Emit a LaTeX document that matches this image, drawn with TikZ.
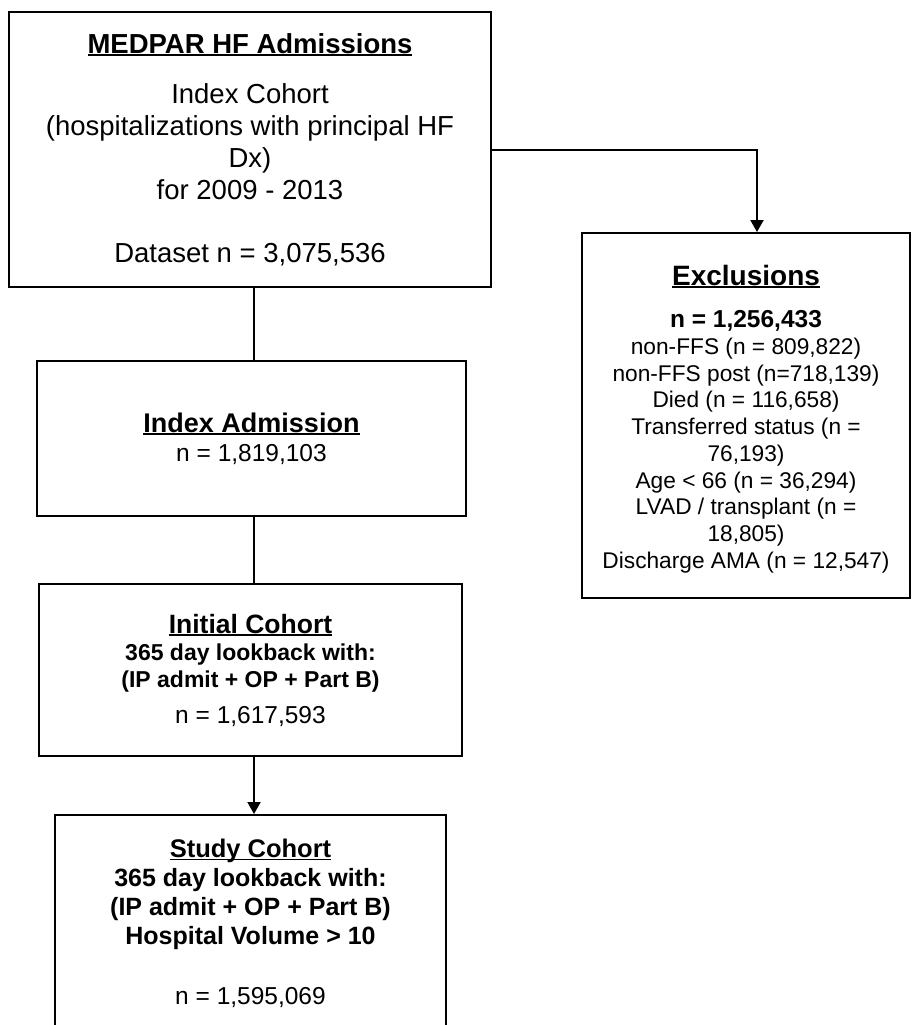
\documentclass[tikz,border=0pt]{standalone}
\usepackage{fontspec}
\setmainfont{Liberation Sans}
\usetikzlibrary{arrows.meta}
\newcommand\undl[1]{\setbox0\hbox{#1}\rlap{\rule[-2.8pt]{\wd0}{1.7pt}}\box0}
\tikzset{
  flowbox/.style={draw, line width=2pt, align=center, inner sep=0pt},
  link/.style={line width=2pt},
  arrowlink/.style={line width=2pt, -{Triangle[length=12pt,width=13pt]}}
}

\begin{document}
\begin{tikzpicture}[x=1pt,y=-1pt]
\useasboundingbox (0,0) rectangle (912,1025);
\clip (0,0) rectangle (912,1025);
\coordinate (spine) at (254,0);
\coordinate (bend) at (757,0);
% boxes
\node [flowbox, minimum width=482pt, minimum height=275pt, font=\fontsize{27.5}{32}\selectfont] (medpar) at (250,149.5)
  {{\bfseries\undl{MEDPAR HF Admissions}}\\[18pt]
   Index Cohort\\
   (hospitalizations with principal HF\\
   Dx)\\
   for 2009 - 2013\\[31pt]
   Dataset n = 3,075,536};
\node [flowbox, minimum width=429pt, minimum height=155pt, font=\fontsize{24.5}{29}\selectfont] (index) at (251.5,438.5)
  {{\fontsize{27}{29}\selectfont\bfseries\undl{Index Admission}}\\
   n = 1,819,103};
\node [flowbox, minimum width=423pt, minimum height=172pt, font=\fontsize{23}{27}\selectfont] (initial) at (250.5,670)
  {{\fontsize{26.5}{27}\selectfont\bfseries\undl{Initial Cohort}}\\
   {\bfseries 365 day lookback with:}\\
   {\bfseries (IP admit + OP + Part B)}\\[9pt]
   {\fontsize{24.5}{27}\selectfont n = 1,617,593}};
\node [flowbox, minimum width=391pt, minimum height=217pt, font=\fontsize{25}{29}\selectfont] (study) at (250.5,923.5)
  {{\fontsize{25.5}{29}\selectfont\bfseries\undl{Study Cohort}}\\
   {\bfseries 365 day lookback with:}\\
   {\bfseries (IP admit + OP + Part B)}\\
   {\bfseries Hospital Volume > 10}\\[31pt]
   {\fontsize{24.5}{29}\selectfont n = 1,595,069}};
\node [flowbox, minimum width=328pt, minimum height=365pt, font=\fontsize{22.7}{26.7}\selectfont] (excl) at (746,415.5)
  {{\fontsize{28}{26.7}\selectfont\bfseries\rule{0pt}{27pt}\undl{Exclusions}}\\[16pt]
   {\fontsize{24.5}{26.7}\selectfont\bfseries n = 1,256,433}\\
   non-FFS (n = 809,822)\\
   non-FFS post (n=718,139)\\
   Died (n = 116,658)\\
   Transferred status (n =\\
   76,193)\\
   Age < 66 (n = 36,294)\\
   LVAD / transplant (n =\\
   18,805)\\
   Discharge AMA (n = 12,547)};
% connectors
\draw [link] (medpar.south -| spine) -- (index.north -| spine);
\draw [link] (index.south -| spine) -- (initial.north -| spine);
\draw [arrowlink] (initial.south -| spine) -- (study.north -| spine);
\draw [arrowlink] (medpar.east) -| (excl.north -| bend);
\end{tikzpicture}
\end{document}
